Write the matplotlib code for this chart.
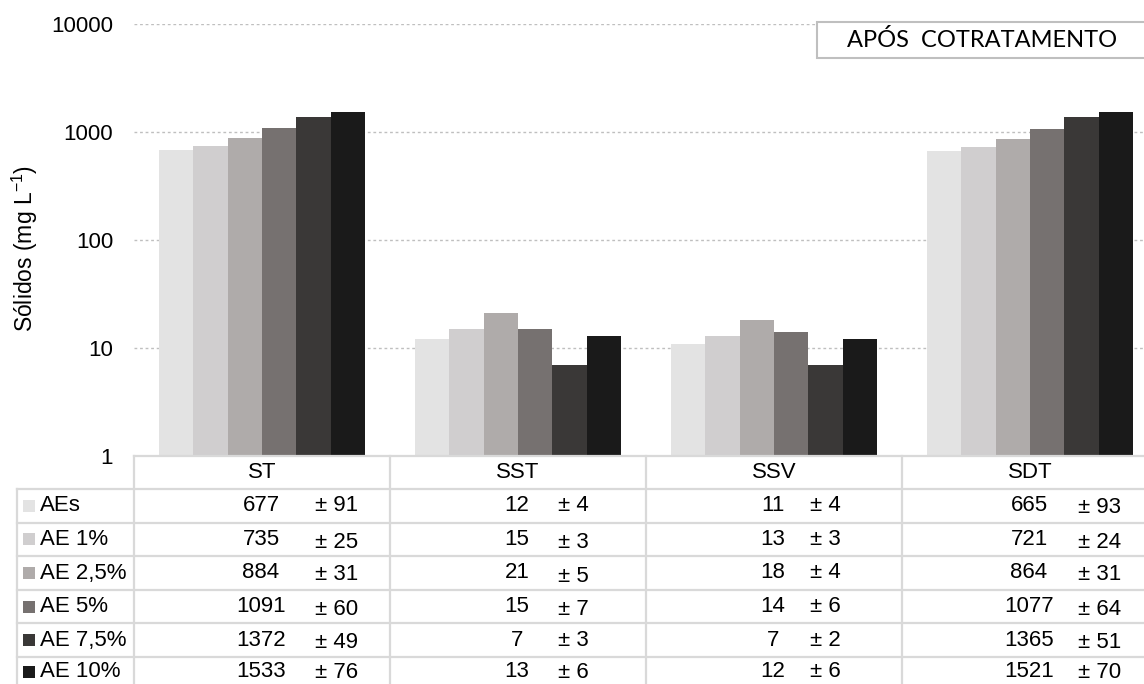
import numpy as np
import matplotlib
matplotlib.use("Agg")
import matplotlib.pyplot as plt
import matplotlib.transforms as mtransforms
from matplotlib.lines import Line2D
from matplotlib.patches import Rectangle

plt.rcParams['font.family'] = ['Liberation Sans', 'DejaVu Sans']

categories = ["ST", "SST", "SSV", "SDT"]
series = ["AEs", "AE 1%", "AE 2,5%", "AE 5%", "AE 7,5%", "AE 10%"]
colors = ["#e3e3e3", "#d0cecf", "#afabaa", "#767170", "#3a3837", "#1a1a1a"]

# mean values, one list per series (ST, SST, SSV, SDT)
aes = [677, 12, 11, 665]
ae_1 = [735, 15, 13, 721]
ae_2_5 = [884, 21, 18, 864]
ae_5 = [1091, 15, 14, 1077]
ae_7_5 = [1372, 7, 7, 1365]
ae_10 = [1533, 13, 12, 1521]

# standard deviations
sd_aes = [91, 4, 4, 93]
sd_ae_1 = [25, 3, 3, 24]
sd_ae_2_5 = [31, 5, 4, 31]
sd_ae_5 = [60, 7, 6, 64]
sd_ae_7_5 = [49, 3, 2, 51]
sd_ae_10 = [76, 6, 6, 70]

values = [aes, ae_1, ae_2_5, ae_5, ae_7_5, ae_10]
errors = [sd_aes, sd_ae_1, sd_ae_2_5, sd_ae_5, sd_ae_7_5, sd_ae_10]

W, H = 1144, 684
fig = plt.figure(figsize=(W / 100, H / 100), dpi=100)
fs = 16


def fy(y):
    return 1 - y / H


ax_left, ax_right, ax_top, ax_bot = 134, 1158, 24, 456
ax = fig.add_axes([ax_left / W, fy(ax_bot), (ax_right - ax_left) / W, (ax_bot - ax_top) / H])

x = np.arange(len(categories))
bw = 0.134
for i, (vals, c) in enumerate(zip(values, colors)):
    ax.bar(x + (i - 2.5) * bw, vals, width=bw, color=c, edgecolor='none', zorder=2)

ax.set_yscale('log')
ax.set_ylim(1, 10000)
ax.set_xlim(-0.5, 3.5)
ax.set_yticks([1, 10, 100, 1000, 10000])
ax.set_yticklabels(["1", "10", "100", "1000", "10000"])
ax.yaxis.set_minor_locator(matplotlib.ticker.NullLocator())
ax.set_xticks([])
ax.tick_params(axis='y', length=0, pad=15, labelsize=fs, labelcolor='#000000')
ax.grid(axis='y', color='#bfbfbf', linestyle=(0, (2, 2)), linewidth=1, zorder=0)
for s in ax.spines.values():
    s.set_visible(False)

fig.text(25 / W, fy(248), r"Sólidos (mg L$^{\mathregular{-1}}$)", rotation=90,
         ha='center', va='center', fontsize=16.5)

# title box
fig.add_artist(Rectangle((817 / W, fy(58)), 330 / W, 36 / H, transform=fig.transFigure,
                         facecolor='white', edgecolor='#bfbfbf', linewidth=1.5, zorder=5))
fig.text(982 / W, fy(40), "APÓS  COTRATAMENTO", ha='center', va='center',
         fontsize=17, family=['Lato', 'DejaVu Sans'], zorder=6)

# data table below the axes
tr = mtransforms.blended_transform_factory(ax.transData, fig.transFigure)
grid_c = '#d9d9d9'
row_h = 33.6
header_top = 456
rows_top = 489
label_left = -0.5 - 117 / 256
n_rows = len(series)
bottom = rows_top + n_rows * row_h


def hline(y, x0, x1):
    fig.add_artist(Line2D([x0, x1], [fy(y), fy(y)], transform=tr, color=grid_c, lw=1.6, zorder=3))


def vline(xd, y0, y1):
    fig.add_artist(Line2D([xd, xd], [fy(y0), fy(y1)], transform=tr, color=grid_c, lw=1.6, zorder=3))


hline(header_top, -0.5, 3.6)
for r in range(n_rows + 1):
    hline(rows_top + r * row_h, label_left, 3.6)
vline(label_left, rows_top, bottom)
for k in range(len(categories) + 1):
    vline(k - 0.5, header_top, bottom)

for k, cat in enumerate(categories):
    fig.text(k, fy((header_top + rows_top) / 2), cat, transform=tr,
             ha='center', va='center', fontsize=fs)

# left edge of the "±" text in each column, in category units
pm_off = [53 / 256, 40 / 256, 36 / 256, 48 / 256]
pm_drop = [[0, 3, 2, 3, 2, 1], [0, 3, 3, 3, 0, 1], [0, 0, 0, 0, 0, 0], [2, 3, 2, 3, 2, 1]]
for r in range(n_rows):
    yc = rows_top + (r + 0.5) * row_h
    if r == n_rows - 1:
        yc -= 2
    key = Rectangle((label_left + 6 / 256, fy(yc + 6)), 12 / 256, 12 / H, transform=tr,
                    facecolor=colors[r], edgecolor='none')
    fig.add_artist(key)
    fig.text(label_left + 23 / 256, fy(yc), series[r], transform=tr,
             ha='left', va='center', fontsize=fs)
    for k in range(len(categories)):
        fig.text(k - 1 / 256, fy(yc), str(values[r][k]), transform=tr,
                 ha='center', va='center', fontsize=fs)
        fig.text(k + pm_off[k], fy(yc + pm_drop[k][r]), "± " + str(errors[r][k]), transform=tr,
                 ha='left', va='center', fontsize=fs)

fig.savefig("out.png", dpi=100)
